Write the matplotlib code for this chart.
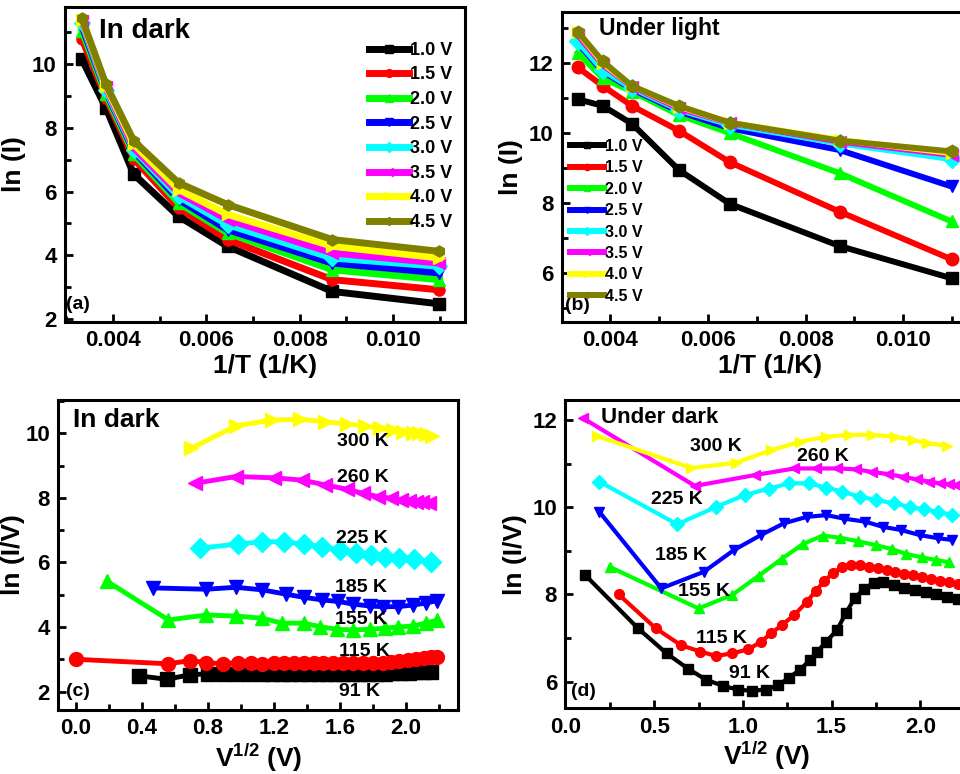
import numpy as np
import matplotlib
matplotlib.use("Agg")
import matplotlib.pyplot as plt
from matplotlib.ticker import MultipleLocator, FormatStrFormatter

plt.rcParams["font.family"] = ["Liberation Sans", "DejaVu Sans"]
plt.rcParams["font.weight"] = "bold"
plt.rcParams["axes.labelweight"] = "bold"
plt.rcParams["mathtext.fontset"] = "custom"
plt.rcParams["mathtext.rm"] = "Liberation Sans:bold"
plt.rcParams["mathtext.it"] = "Liberation Sans:bold"
plt.rcParams["mathtext.bf"] = "Liberation Sans:bold"

# ---- panels (a), (b): ln(I) vs 1/T ----
temps = [300, 260, 225, 185, 155, 115, 91]
voltages = ["1.0 V", "1.5 V", "2.0 V", "2.5 V", "3.0 V", "3.5 V", "4.0 V", "4.5 V"]

dark_10 = [10.15, 8.63, 6.54, 5.22, 4.28, 2.86, 2.47]
dark_15 = [10.80, 8.95, 7.03, 5.49, 4.49, 3.23, 2.91]
dark_20 = [11.05, 9.05, 7.17, 5.64, 4.70, 3.54, 3.23]
dark_25 = [11.20, 9.15, 7.27, 5.75, 4.80, 3.75, 3.44]
dark_30 = [11.30, 9.20, 7.32, 5.85, 4.96, 3.91, 3.65]
dark_35 = [11.36, 9.27, 7.37, 5.96, 5.12, 4.07, 3.75]
dark_40 = [11.40, 9.32, 7.48, 6.06, 5.28, 4.28, 3.91]
dark_45 = [11.44, 9.37, 7.59, 6.27, 5.59, 4.49, 4.12]

light_10 = [10.97, 10.78, 10.27, 8.95, 7.98, 6.78, 5.86]
light_15 = [11.88, 11.35, 10.78, 10.07, 9.17, 7.76, 6.40]
light_20 = [12.30, 11.57, 11.19, 10.52, 10.00, 8.86, 7.48]
light_25 = [12.57, 11.76, 11.26, 10.62, 10.14, 9.52, 8.48]
light_30 = [12.62, 11.80, 11.29, 10.67, 10.24, 9.71, 9.26]
light_35 = [12.80, 11.95, 11.33, 10.71, 10.29, 9.76, 9.38]
light_40 = [12.88, 12.00, 11.35, 10.76, 10.30, 9.81, 9.43]
light_45 = [12.90, 12.05, 11.35, 10.78, 10.30, 9.79, 9.48]

# ---- panel (c): ln(I/V) vs V^1/2, in dark ----
k_labels = ["91 K", "115 K", "155 K", "185 K", "225 K", "260 K", "300 K"]

c91_x = [0.38, 0.55, 0.69, 0.80, 0.89, 0.97, 1.05, 1.13, 1.19, 1.25, 1.30, 1.36,
         1.41, 1.47, 1.52, 1.57, 1.62, 1.67, 1.72, 1.77, 1.82, 1.87, 1.92, 1.97,
         2.02, 2.06, 2.11, 2.15]
c91_y = [2.49, 2.38, 2.52, 2.55, 2.55, 2.55, 2.55, 2.55, 2.54, 2.54, 2.54, 2.54,
         2.54, 2.54, 2.54, 2.54, 2.54, 2.54, 2.55, 2.55, 2.55, 2.56, 2.57, 2.58,
         2.59, 2.60, 2.61, 2.62]
c115_x = [0.00, 0.56, 0.69, 0.79, 0.89, 0.98, 1.06, 1.13, 1.20, 1.26, 1.32, 1.38,
          1.44, 1.50, 1.56, 1.62, 1.68, 1.74, 1.80, 1.86, 1.91, 1.96, 2.01, 2.06,
          2.11, 2.15, 2.19]
c115_y = [3.00, 2.86, 2.96, 2.90, 2.86, 2.90, 2.90, 2.86, 2.88, 2.88, 2.88, 2.87,
          2.87, 2.87, 2.87, 2.87, 2.87, 2.88, 2.89, 2.90, 2.92, 2.94, 2.97, 3.00,
          3.03, 3.06, 3.08]
c155_x = [0.19, 0.56, 0.79, 0.97, 1.13, 1.25, 1.38, 1.48, 1.58, 1.68, 1.78, 1.87,
          1.95, 2.04, 2.12, 2.19]
c155_y = [5.41, 4.22, 4.37, 4.34, 4.27, 4.12, 4.12, 4.01, 3.93, 3.91, 3.93, 3.96,
          4.00, 4.03, 4.12, 4.21]
c185_x = [0.47, 0.79, 0.97, 1.13, 1.27, 1.38, 1.49, 1.59, 1.68, 1.78, 1.86, 1.95,
          2.04, 2.12, 2.19]
c185_y = [5.21, 5.17, 5.23, 5.15, 5.02, 4.92, 4.84, 4.79, 4.71, 4.65, 4.63, 4.63,
          4.68, 4.74, 4.82]
c225_x = [0.75, 0.98, 1.13, 1.26, 1.38, 1.49, 1.60, 1.70, 1.79, 1.87, 1.96, 2.05, 2.15]
c225_y = [6.44, 6.57, 6.64, 6.64, 6.57, 6.49, 6.39, 6.30, 6.23, 6.18, 6.13, 6.11, 6.02]
c260_x = [0.72, 0.97, 1.20, 1.37, 1.51, 1.64, 1.74, 1.83, 1.91, 1.97, 2.02, 2.06,
          2.10, 2.14]
c260_y = [8.45, 8.66, 8.62, 8.55, 8.40, 8.27, 8.14, 8.04, 7.99, 7.94, 7.90, 7.88,
          7.86, 7.85]
c300_x = [0.70, 0.97, 1.19, 1.36, 1.51, 1.64, 1.75, 1.84, 1.92, 1.98, 2.04, 2.08,
          2.12, 2.16]
c300_y = [9.54, 10.23, 10.41, 10.43, 10.36, 10.29, 10.23, 10.15, 10.10, 10.05,
          10.02, 10.00, 9.97, 9.93]

# ---- panel (d): ln(I/V) vs V^1/2 ----
d91_x = [0.11, 0.41, 0.57, 0.69, 0.79, 0.89, 0.97, 1.05, 1.13, 1.20, 1.26, 1.32,
         1.38, 1.42, 1.47, 1.53, 1.58, 1.63, 1.68, 1.74, 1.79, 1.85, 1.91, 1.97,
         2.03, 2.09, 2.15, 2.21]
d91_y = [8.45, 7.22, 6.65, 6.30, 6.05, 5.90, 5.82, 5.79, 5.82, 5.92, 6.09, 6.27,
         6.50, 6.69, 6.92, 7.18, 7.57, 7.91, 8.12, 8.27, 8.29, 8.22, 8.16, 8.10,
         8.05, 8.00, 7.95, 7.90]
d115_x = [0.30, 0.51, 0.65, 0.76, 0.85, 0.94, 1.03, 1.10, 1.16, 1.22, 1.29, 1.36,
          1.41, 1.46, 1.51, 1.56, 1.61, 1.66, 1.71, 1.76, 1.81, 1.86, 1.91, 1.96,
          2.01, 2.06, 2.11, 2.16, 2.21]
d115_y = [8.00, 7.22, 6.84, 6.69, 6.59, 6.65, 6.74, 6.91, 7.11, 7.30, 7.53, 7.83,
          8.08, 8.31, 8.50, 8.63, 8.68, 8.67, 8.64, 8.60, 8.56, 8.52, 8.48, 8.44,
          8.40, 8.36, 8.32, 8.28, 8.23]
d155_x = [0.25, 0.75, 0.94, 1.09, 1.22, 1.34, 1.45, 1.55, 1.65, 1.75, 1.84, 1.92,
          2.01, 2.09, 2.16]
d155_y = [8.63, 7.68, 7.99, 8.43, 8.82, 9.16, 9.35, 9.30, 9.22, 9.13, 9.04, 8.93,
          8.85, 8.79, 8.74]
d185_x = [0.19, 0.54, 0.78, 0.95, 1.10, 1.23, 1.36, 1.47, 1.57, 1.69, 1.79, 1.89,
          2.00, 2.10, 2.18]
d185_y = [9.90, 8.14, 8.52, 9.02, 9.36, 9.63, 9.78, 9.82, 9.74, 9.67, 9.55, 9.48,
          9.36, 9.29, 9.25]
d225_x = [0.19, 0.63, 0.85, 1.01, 1.15, 1.26, 1.37, 1.47, 1.56, 1.66, 1.75, 1.85,
          1.94, 2.02, 2.10, 2.18]
d225_y = [10.59, 9.61, 10.01, 10.28, 10.43, 10.55, 10.55, 10.45, 10.36, 10.24,
          10.17, 10.09, 10.01, 9.95, 9.90, 9.82]
d260_x = [0.10, 0.73, 1.07, 1.29, 1.41, 1.53, 1.64, 1.73, 1.82, 1.90, 1.98, 2.05,
          2.11, 2.16, 2.20]
d260_y = [12.04, 10.49, 10.74, 10.89, 10.89, 10.89, 10.87, 10.81, 10.76, 10.70,
          10.64, 10.59, 10.55, 10.53, 10.51]
d300_x = [0.18, 0.71, 0.96, 1.16, 1.32, 1.47, 1.60, 1.73, 1.86, 1.96, 2.04, 2.15]
d300_y = [11.63, 10.90, 11.02, 11.31, 11.50, 11.62, 11.66, 11.66, 11.62, 11.54,
          11.47, 11.41]

volt_colors = ["black", "#ff0000", "#00ff00", "#0000ff", "#00ffff", "#ff00ff",
               "#ffff00", "#808000"]
volt_markers = ["s", "o", "^", "v", "D", "<", ">", "h"]
temp_colors = volt_colors[:7]
temp_markers = volt_markers[:7]


def style_axes(ax, xmajor, xminor, ymajor, yminor, xfmt):
    for sp in ax.spines.values():
        sp.set_linewidth(2.2)
    ax.xaxis.set_major_locator(MultipleLocator(xmajor))
    ax.xaxis.set_minor_locator(MultipleLocator(xminor))
    ax.yaxis.set_major_locator(MultipleLocator(ymajor))
    ax.yaxis.set_minor_locator(MultipleLocator(yminor))
    ax.xaxis.set_major_formatter(FormatStrFormatter(xfmt))
    ax.tick_params(which="both", direction="in", top=False, right=False,
                   width=2, labelsize=16)
    ax.tick_params(which="major", length=6, pad=6)
    ax.tick_params(which="minor", length=4)


fig = plt.figure(figsize=(9.6, 7.74), dpi=100)

# (a)
ax_a = fig.add_axes([0.0677, 0.584, 0.4167, 0.407])
inv_T = 1.0 / np.array(temps)
dark_sets = [dark_10, dark_15, dark_20, dark_25, dark_30, dark_35, dark_40, dark_45]
for vals, lab, c, m in zip(dark_sets, voltages, volt_colors, volt_markers):
    ax_a.plot(inv_T, vals, color=c, marker=m, ms=8, lw=5, label=lab)
ax_a.set_xlim(0.00297, 0.01154)
ax_a.set_ylim(1.9, 11.8)
style_axes(ax_a, 0.002, 0.001, 2, 1, "%.3f")
ax_a.set_xlabel("1/T (1/K)", fontsize=19, labelpad=2)
ax_a.set_ylabel("ln (I)", fontsize=19, labelpad=4)
ax_a.text(0.0037, 11.05, "In dark", fontsize=20, va="center")
ax_a.text(0.0030, 2.45, "(a)", fontsize=14, va="center")
ax_a.legend(loc="upper right", bbox_to_anchor=(0.985, 0.912), frameon=False,
            fontsize=13, handlelength=2.2, handletextpad=0.05, labelspacing=0.42,
            borderaxespad=0, numpoints=1, markerscale=0.7)

# (b)
ax_b = fig.add_axes([0.5854, 0.5844, 0.4333, 0.4005])
light_sets = [light_10, light_15, light_20, light_25, light_30, light_35,
              light_40, light_45]
for vals, lab, c, m in zip(light_sets, voltages, volt_colors, volt_markers):
    ax_b.plot(inv_T, vals, color=c, marker=m, ms=9, lw=4.3, label=lab)
ax_b.set_xlim(0.00301, 0.01153)
ax_b.set_ylim(4.62, 13.47)
style_axes(ax_b, 0.002, 0.001, 2, 1, "%.3f")
ax_b.set_xlabel("1/T (1/K)", fontsize=19, labelpad=2)
ax_b.set_ylabel("ln (I)", fontsize=19, labelpad=4)
ax_b.text(0.00376, 13.0, "Under light", fontsize=16.5, va="center")
ax_b.text(0.00308, 5.07, "(b)", fontsize=14, va="center")
ax_b.legend(loc="upper left", bbox_to_anchor=(0.005, 0.61), frameon=False,
            fontsize=11.5, handlelength=2.1, handletextpad=0.05, labelspacing=0.4,
            borderaxespad=0, numpoints=1, markerscale=0.5)

# (c)
ax_c = fig.add_axes([0.0607, 0.0827, 0.4167, 0.4005])
c_sets = [(c91_x, c91_y), (c115_x, c115_y), (c155_x, c155_y), (c185_x, c185_y),
          (c225_x, c225_y), (c260_x, c260_y), (c300_x, c300_y)]
for (xs, ys), c, m in zip(c_sets, temp_colors, temp_markers):
    ax_c.plot(xs, ys, color=c, marker=m, ms=10, lw=3.5)
ax_c.set_xlim(-0.107, 2.317)
ax_c.set_ylim(1.43, 11.03)
style_axes(ax_c, 0.4, 0.2, 2, 1, "%.1f")
ax_c.set_xlabel(r"V$^{1/2}$ (V)", fontsize=19, labelpad=2)
ax_c.set_ylabel("ln (I/V)", fontsize=19, labelpad=0)
ax_c.text(-0.02, 10.4, "In dark", fontsize=19, va="center")
ax_c.text(-0.06, 2.0, "(c)", fontsize=14, va="center")
c_label_pos = [(1.72, 2.0), (1.75, 3.24), (1.73, 4.22), (1.725, 5.23),
               (1.73, 6.75), (1.74, 8.64), (1.74, 9.74)]
for lab, (tx, ty) in zip(k_labels, c_label_pos):
    ax_c.text(tx, ty, lab, fontsize=14, ha="center", va="center")

# (d)
ax_d = fig.add_axes([0.589, 0.0849, 0.419, 0.3983])
d_sets = [(d91_x, d91_y), (d115_x, d115_y), (d155_x, d155_y), (d185_x, d185_y),
          (d225_x, d225_y), (d260_x, d260_y), (d300_x, d300_y)]
for (xs, ys), c, m in zip(d_sets, temp_colors, temp_markers):
    ax_d.plot(xs, ys, color=c, marker=m, ms=7, lw=3)
ax_d.set_xlim(0.0, 2.267)
ax_d.set_ylim(5.39, 12.46)
style_axes(ax_d, 0.5, 0.25, 2, 1, "%.1f")
ax_d.set_xlabel(r"V$^{1/2}$ (V)", fontsize=19, labelpad=2)
ax_d.set_ylabel("ln (I/V)", fontsize=19, labelpad=4)
ax_d.text(0.2, 12.05, "Under dark", fontsize=16, va="center")
ax_d.text(0.10, 5.77, "(d)", fontsize=14, ha="center", va="center")
d_label_pos = [(1.04, 6.19), (0.88, 6.99), (0.78, 8.06), (0.65, 8.89),
               (0.63, 10.18), (1.45, 11.17), (0.85, 11.39)]
for lab, (tx, ty) in zip(k_labels, d_label_pos):
    ax_d.text(tx, ty, lab, fontsize=14, ha="center", va="center")

fig.savefig("out.png", dpi=100)
